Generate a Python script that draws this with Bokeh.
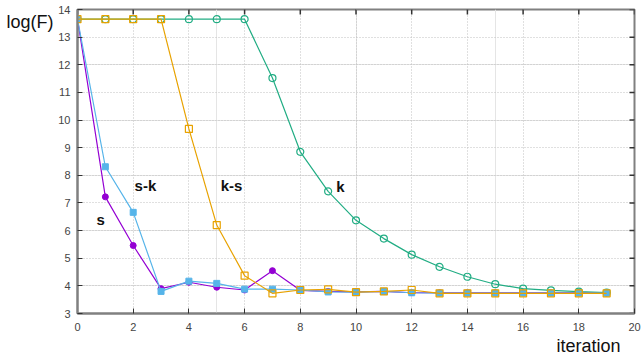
from bokeh.plotting import figure
from bokeh.models import LinearAxis, Label, Range1d, FixedTicker, Grid, Title
from bokeh.embed import file_html
from bokeh.resources import INLINE

iters = list(range(20))
s_vals = [13.65, 7.22, 5.46, 3.9, 4.13, 3.95, 3.85, 4.55, 3.84, 3.8, 3.78, 3.8, 3.75, 3.75, 3.75, 3.75, 3.75, 3.75, 3.75, 3.75]
sk_vals = [13.65, 8.31, 6.66, 3.8, 4.17, 4.09, 3.88, 3.88, 3.85, 3.78, 3.77, 3.8, 3.75, 3.74, 3.74, 3.74, 3.74, 3.74, 3.74, 3.74]
ks_vals = [13.65, 13.65, 13.65, 13.65, 9.68, 6.2, 4.37, 3.73, 3.85, 3.87, 3.77, 3.8, 3.85, 3.73, 3.73, 3.73, 3.73, 3.73, 3.73, 3.73]
k_vals = [13.65, 13.65, 13.65, 13.65, 13.65, 13.65, 13.65, 11.52, 8.85, 7.42, 6.37, 5.71, 5.13, 4.69, 4.33, 4.06, 3.9, 3.84, 3.79, 3.76]
x_ticks = list(range(0, 21, 2))
y_ticks = list(range(3, 15))
y_title_pos = [13.55]

FONT = "Liberation Sans"
C_S = "#9400d3"
C_SK = "#56b4e9"
C_KS = "#e8a200"
C_K = "#22ad84"
BORDER = "#808080"

p = figure(width=641, height=356, output_backend="svg", toolbar_location=None,
           x_range=Range1d(0, 20), y_range=Range1d(3, 14),
           x_axis_location=None, y_axis_location=None,
           min_border_left=77, min_border_right=7, min_border_top=9, min_border_bottom=43)
p.outline_line_color = BORDER
p.outline_line_width = 2
p.background_fill_color = "white"
p.border_fill_color = "white"

def mk_axis(ticks):
    ax = LinearAxis(ticker=FixedTicker(ticks=ticks))
    ax.axis_line_color = BORDER
    ax.axis_line_width = 2
    ax.major_tick_in = 5
    ax.major_tick_out = 0
    ax.major_tick_line_color = "#333333"
    ax.minor_tick_line_color = None
    ax.major_label_text_font = FONT
    ax.major_label_text_font_size = "11px"
    ax.major_label_text_color = "#444444"
    return ax

bx = mk_axis(x_ticks); bx.major_label_standoff = 9
ly = mk_axis(y_ticks); ly.major_label_standoff = 7
p.add_layout(bx, "below")
p.add_layout(ly, "left")

# outer left "axis" used only to place the y title at the top-left
ty = LinearAxis(ticker=FixedTicker(ticks=y_title_pos), major_label_overrides={y_title_pos[0]: "log(F)"})
ty.axis_line_color = None
ty.major_tick_line_color = None
ty.minor_tick_line_color = None
ty.major_tick_in = 0
ty.major_tick_out = 0
ty.major_label_standoff = 2
ty.major_label_text_font = FONT
ty.major_label_text_font_size = "18px"
ty.major_label_text_color = "#111111"
p.add_layout(ty, "left")

p.add_layout(Title(text="iteration", align="right", offset=14, standoff=0,
                   text_font=FONT, text_font_size="18px", text_font_style="normal",
                   text_color="#111111"), "below")

gx = Grid(dimension=0, ticker=FixedTicker(ticks=x_ticks), grid_line_color="#c0c0c0", grid_line_dash="1 2", grid_line_width=1)
gy = Grid(dimension=1, ticker=FixedTicker(ticks=y_ticks), grid_line_color="#c0c0c0", grid_line_dash="1 2", grid_line_width=1)
p.add_layout(gx)
p.add_layout(gy)

# mirror ticks on top and right edges (half of each dash clipped by the frame)
p.scatter(x_ticks, [p.y_range.end] * len(x_ticks), marker="dash", angle=1.5708, size=10,
          line_color="#333333", line_width=1.5)
p.scatter([p.x_range.end] * len(y_ticks), y_ticks, marker="dash", size=10,
          line_color="#333333", line_width=1.5)

p.line(iters, s_vals, line_color=C_S, line_width=1.2)
p.scatter(iters, s_vals, marker="circle", size=6, fill_color=C_S, line_color=C_S)

p.line(iters, k_vals, line_color=C_K, line_width=1.2)
p.scatter(iters, k_vals, marker="circle", size=7, fill_color=None, line_color=C_K, line_width=1.2)

p.line(iters, sk_vals, line_color=C_SK, line_width=1.2)
p.scatter(iters, sk_vals, marker="square", size=6, fill_color=C_SK, line_color=C_SK)

p.line(iters, ks_vals, line_color=C_KS, line_width=1.2)
p.scatter(iters, ks_vals, marker="square", size=7, fill_color=None, line_color=C_KS, line_width=1.2)

def lab(x, y, t, size="15px", style="bold"):
    p.add_layout(Label(x=x, y=y, text=t, text_font=FONT, text_font_size=size, text_font_style=style,
                       text_color="#111111", text_align="center", text_baseline="middle"))

lab(0.83, 6.4, "s")
lab(2.44, 7.63, "s-k")
lab(5.53, 7.63, "k-s")
lab(9.44, 7.6, "k")

open("out.html", "w").write(file_html(p, INLINE))
